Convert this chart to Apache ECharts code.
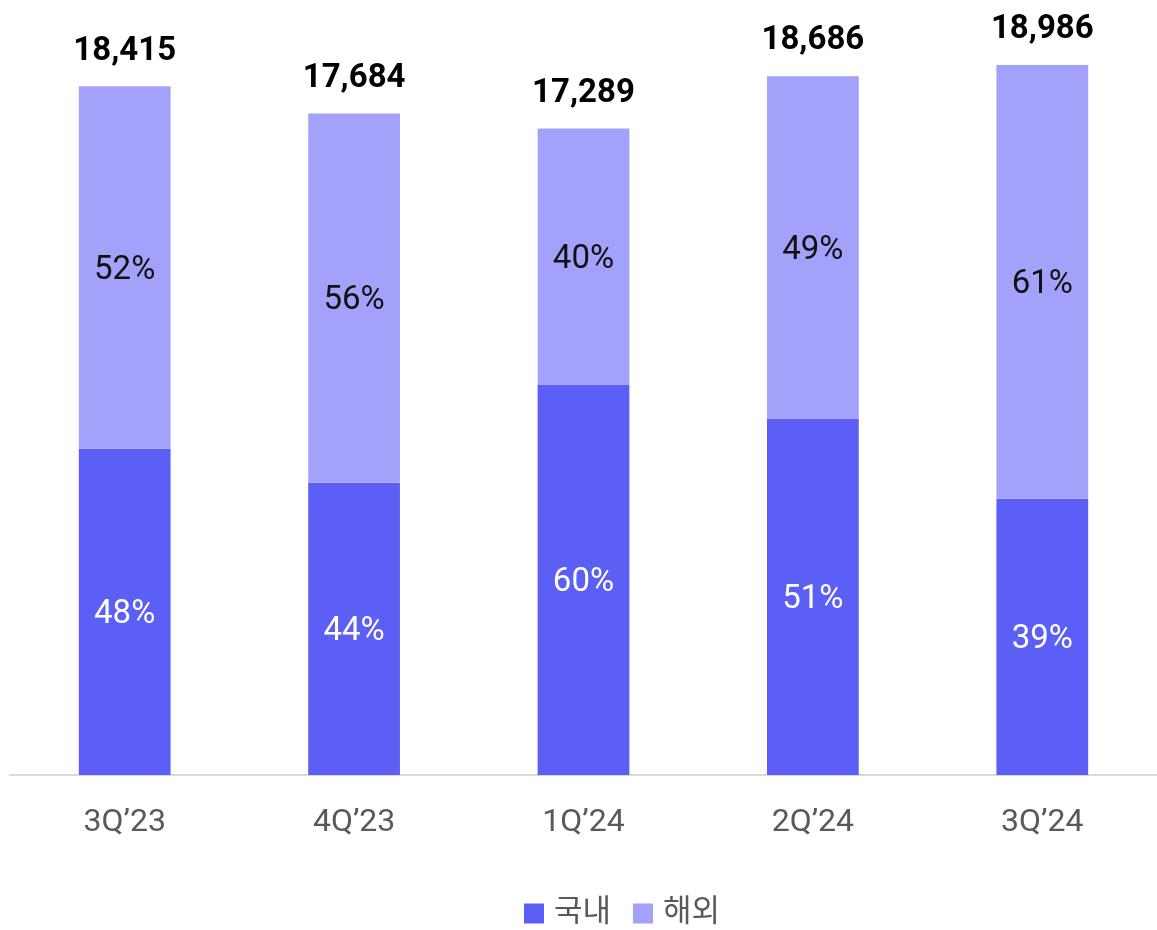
<!DOCTYPE html>
<html>
<head>
<meta charset="utf-8">
<script src="https://cdn.jsdelivr.net/npm/echarts@6/dist/echarts.min.js"></script>
<style>
  html, body { margin: 0; padding: 0; background: #fff; }
  #main { width: 1157px; height: 930px; }
</style>
</head>
<body>
<div id="main"></div>
<script>
// 분기 / 매출 구성
var quarters = ['3Q\u201923', '4Q\u201923', '1Q\u201924', '2Q\u201924', '3Q\u201924'];
var domestic = [8726, 7816, 10439, 9529, 7388];   // 국내
var overseas = [9689, 9868, 6850, 9157, 11598];   // 해외
var totals = [18415, 17684, 17289, 18686, 18986];
var domesticPct = ['48%', '44%', '60%', '51%', '39%'];
var overseasPct = ['52%', '56%', '40%', '49%', '61%'];

var font = 'Roboto, "Noto Sans CJK KR", sans-serif';
var chart = echarts.init(document.getElementById('main'));

chart.setOption({
    animation: false,
    textStyle: { fontFamily: font },
    color: ['#5c5ff5', '#a3a1fa'],
    grid: { left: 10, right: 0, top: 27, bottom: 155 },
    legend: {
        data: ['국내', '해외'],
        top: 893,
        left: 519,
        icon: 'rect',
        itemWidth: 20,
        itemHeight: 20,
        itemGap: 22,
        textStyle: { fontSize: 31, color: '#595959', fontFamily: font, padding: [0, 0, 0, 5] }
    },
    xAxis: {
        type: 'category',
        data: quarters,
        axisTick: { show: false },
        axisLine: { lineStyle: { color: '#d9d9d9', width: 2 } },
        axisLabel: { fontSize: 32, color: '#595959', margin: 32, fontFamily: font }
    },
    yAxis: {
        type: 'value',
        min: 0,
        max: 20000,
        show: false,
        splitLine: { show: false }
    },
    series: [
        {
            name: '국내',
            type: 'bar',
            stack: 'sales',
            barWidth: '40%',
            data: domestic,
            label: {
                show: true,
                position: 'inside',
                offset: [0, 3],
                color: '#fff',
                fontSize: 33,
                fontFamily: font,
                formatter: function (p) { return domesticPct[p.dataIndex]; }
            }
        },
        {
            name: '해외',
            type: 'bar',
            stack: 'sales',
            barWidth: '40%',
            data: overseas,
            label: {
                show: true,
                position: 'inside',
                offset: [0, 3],
                color: '#111',
                fontSize: 33,
                fontFamily: font,
                formatter: function (p) { return overseasPct[p.dataIndex]; }
            }
        },
        {
            // 합계 라벨
            name: '합계',
            type: 'line',
            data: totals,
            symbol: 'circle',
            symbolSize: 1,
            showSymbol: true,
            itemStyle: { color: 'rgba(0,0,0,0)' },
            lineStyle: { width: 0, color: 'rgba(0,0,0,0)' },
            silent: true,
            z: 10,
            label: {
                show: true,
                position: 'top',
                distance: 18,
                color: '#000',
                fontSize: 33,
                fontWeight: 'bold',
                fontFamily: font,
                formatter: function (p) { return p.value.toLocaleString('en-US'); }
            }
        }
    ]
});
</script>
</body>
</html>
